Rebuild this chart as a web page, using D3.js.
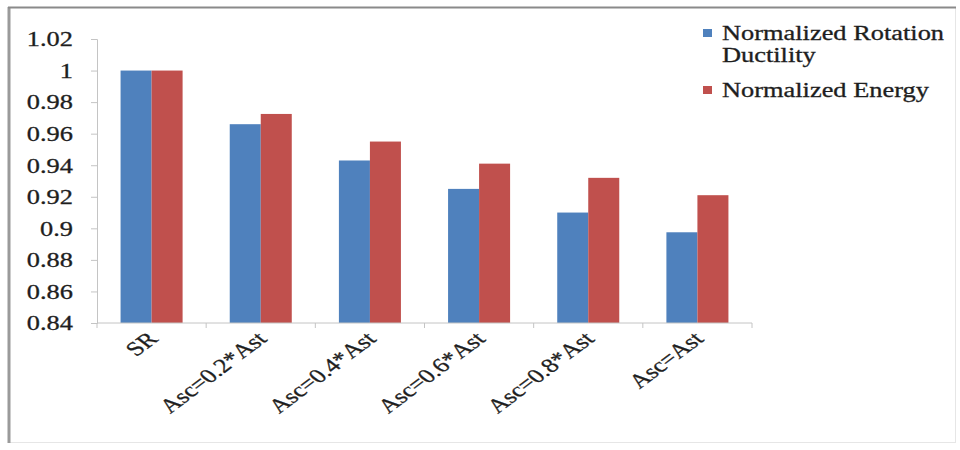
<!DOCTYPE html>
<html>
<head>
<meta charset="utf-8">
<script src="https://cdn.jsdelivr.net/npm/d3@7/dist/d3.min.js"></script>
<style>
  html, body { margin: 0; padding: 0; background: #fff; }
  svg { display: block; }
  text { font-family: "Liberation Serif", "Times New Roman", serif; }
</style>
</head>
<body>
<svg id="chart" width="960" height="450"></svg>
<script>
// Categories along the x axis
const categories = ["SR", "Asc=0.2*Ast", "Asc=0.4*Ast", "Asc=0.6*Ast", "Asc=0.8*Ast", "Asc=Ast"];
// Series values
const ductility = [1.0, 0.966, 0.943, 0.925, 0.910, 0.8975];
const energy    = [1.0, 0.9725, 0.955, 0.941, 0.932, 0.921];
const seriesColors = ["#4F81BD", "#C0504D"];
// Y axis tick values and labels
const yTicks = [0.84, 0.86, 0.88, 0.9, 0.92, 0.94, 0.96, 0.98, 1, 1.02];
const yTickLabels = ["0.84", "0.86", "0.88", "0.9", "0.92", "0.94", "0.96", "0.98", "1", "1.02"];

const FS = 20;        // font size
const SX = 1.32;      // horizontal stretch of the lettering
const INK = "#1e1e1e";
const AXIS = "#c4c4c4";

const svg = d3.select("#chart");

// give every label the same serif face and a slightly heavier stroke
function styleText(sel) {
  sel.attr("font-size", FS)
    .style("font-family", '"Liberation Serif", "Times New Roman", serif')
    .attr("fill", INK)
    .attr("stroke", INK).attr("stroke-width", 0.3);
}

// outer frame
svg.append("rect").attr("x", 9.5).attr("y", 7.5).attr("width", 946).attr("height", 435)
  .attr("fill", "none").attr("stroke", "#e6e6e6").attr("stroke-width", 1);
svg.append("line").attr("x1", 9).attr("x2", 9).attr("y1", 7).attr("y2", 443)
  .attr("stroke", "#9a9a9a").attr("stroke-width", 3);
svg.append("line").attr("x1", 8).attr("x2", 956).attr("y1", 7.5).attr("y2", 7.5)
  .attr("stroke", "#8a8a8a").attr("stroke-width", 2);

const plot = { left: 97, right: 752, top: 39, bottom: 323 };

const x = d3.scaleBand().domain(categories).range([plot.left, plot.right]).paddingInner(0).paddingOuter(0);
const x1 = d3.scaleBand().domain([0, 1]).range([0, x.bandwidth()]).paddingInner(0).paddingOuter(0.76);
const y = d3.scaleLinear().domain([0.84, 1.02]).range([plot.bottom, plot.top]);

// bars
const groups = svg.append("g").selectAll("g").data(categories).join("g")
  .attr("transform", d => `translate(${x(d)},0)`);
groups.selectAll("rect")
  .data((d, i) => [ductility[i], energy[i]])
  .join("rect")
  .attr("x", (d, j) => x1(j))
  .attr("width", x1.bandwidth())
  .attr("y", d => y(d))
  .attr("height", d => y(0.84) - y(d))
  .attr("fill", (d, j) => seriesColors[j]);

// y axis
const yAxis = svg.append("g").attr("transform", `translate(${plot.left},0)`)
  .call(d3.axisLeft(y).tickValues(yTicks).tickFormat((d, i) => yTickLabels[i]).tickSizeOuter(0).tickSize(6));
yAxis.attr("font-family", null);
yAxis.select(".domain").attr("stroke", AXIS);
yAxis.selectAll(".tick line").attr("stroke", AXIS);
yAxis.selectAll(".tick text")
  .attr("x", 0).attr("dy", "0.34em")
  .attr("transform", `translate(-24,0) scale(${SX},1)`)
  .attr("text-anchor", "end")
  .call(styleText);

// x axis
const boundaries = categories.map(c => x(c)).concat([plot.right]);
const xAxis = svg.append("g").attr("transform", `translate(0,${plot.bottom})`);
xAxis.append("line").attr("x1", plot.left).attr("x2", plot.right).attr("stroke", AXIS);
xAxis.selectAll("line.tk").data(boundaries).join("line").attr("class", "tk")
  .attr("x1", d => d).attr("x2", d => d).attr("y1", 0).attr("y2", 5).attr("stroke", AXIS);
xAxis.selectAll("text").data(categories).join("text")
  .attr("transform", d => `translate(${x(d) + x.bandwidth() / 2 + 1},${12}) scale(${SX},1) rotate(-45)`)
  .attr("text-anchor", "end")
  .attr("dy", "0.35em")
  .call(styleText)
  .text(d => d);

// legend
const legend = svg.append("g");
const legendRows = [
  { lines: ["Normalized Rotation", "Ductility"], y: 40 },
  { lines: ["Normalized Energy"], y: 97 }
];
legendRows.forEach((row, i) => {
  legend.append("rect").attr("x", 703).attr("y", row.y - 11).attr("width", 9).attr("height", 8)
    .attr("fill", seriesColors[i]);
  row.lines.forEach((t, k) => {
    legend.append("text")
      .attr("transform", `translate(722,${row.y + k * 22}) scale(${SX},1)`)
      .call(styleText)
      .text(t);
  });
});
</script>
</body>
</html>
